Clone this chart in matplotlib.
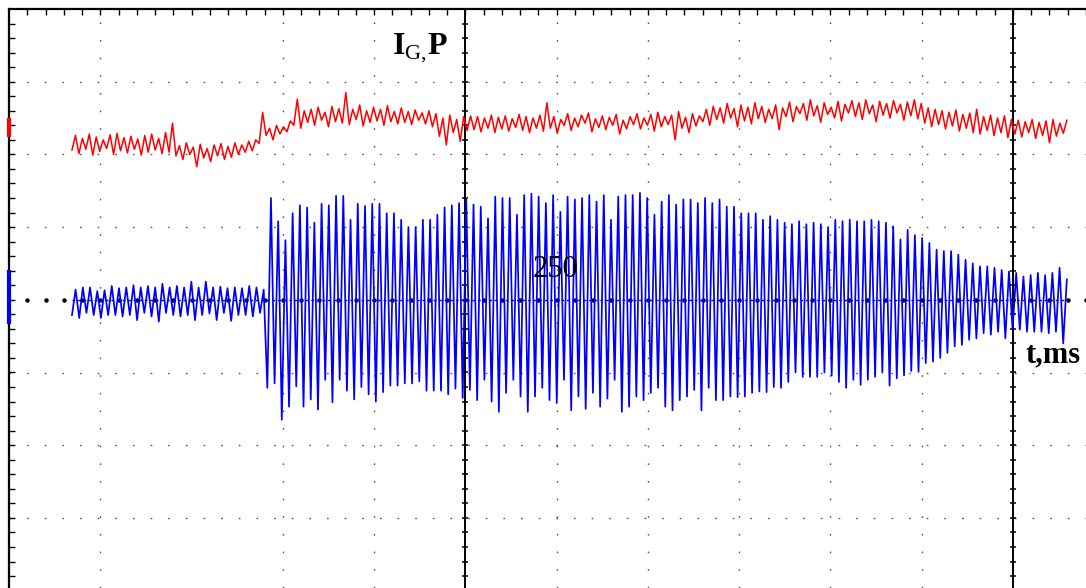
import numpy as np
import matplotlib
matplotlib.use("Agg")
import matplotlib.pyplot as plt

plt.rcParams['font.family'] = ['Liberation Serif', 'DejaVu Serif']
plt.rcParams['mathtext.fontset'] = 'custom'
plt.rcParams['mathtext.rm'] = 'Liberation Serif'
plt.rcParams['mathtext.bf'] = 'Liberation Serif:bold'

# values in hundredths of a screen division, time in divisions
# blue trace: per cycle minimum and maximum (27 quiet cycles, then 111 large ones)
blue_lo = [-21, -25, -18, -21, -25, -21, -21, -23, -21, -28, -18, -23, -30, -18,
           -21, -23, -21, -28, -21, -19, -28, -18, -29, -21, -21, -23, -18,
           -121, -115, -165, -147, -119, -147, -137, -151, -110, -141, -110, -125,
           -137, -120, -130, -140, -127, -118, -118, -115, -115, -112, -125, -125,
           -125, -130, -122, -135,
           -124, -138, -110, -140, -154, -128, -110, -133, -154, -133,
           -121, -138, -142, -110, -152, -133, -150, -128, -147, -136,
           -110, -154, -147, -133, -138, -128, -121, -147, -152, -138,
           -133, -124, -152, -121, -138, -138, -133, -134, -133, -128, -126,
           -127, -120, -121, -113, -100, -106, -106, -106, -100, -104,
           -113, -121, -110, -117, -110, -106, -100, -118, -108, -104,
           -98, -99, -87, -85, -80, -73,
           -64, -62, -55, -53, -46, -48, -44, -53, -41, -41,
           -44, -44, -44, -46, -44, -60]
blue_hi = [14, 17, 17, 12, 13, 19, 16, 17, 20, 17, 19, 17, 22, 17,
           19, 17, 25, 17, 25, 17, 18, 16, 17, 16, 19, 17, 14,
           140, 108, 82, 119, 130, 127, 106, 132, 130, 143, 143, 110, 132,
           129, 132, 132, 119, 119, 110, 100, 100, 110, 110, 117, 127, 130,
           133, 138,
           131, 128, 112, 142, 140, 140, 117, 144, 146, 142,
           133, 144, 121, 142, 138, 140, 144, 135, 144, 110,
           142, 144, 144, 147, 140, 117, 135, 144, 131, 138,
           138, 133, 140, 133, 138, 128, 128, 119, 119, 119, 110,
           115, 110, 106, 104, 108, 104, 106, 104, 100, 110,
           108, 110, 108, 108, 110, 108, 106, 101, 83, 96,
           89, 85, 78, 69, 67, 67, 62, 55, 50, 46,
           46, 44, 41, 39, 37, 32, 34, 37, 34, 37, 44, 28]

# red trace: per cycle minimum and maximum
red_lo = [206, 201, 207, 199, 204, 208, 200, 205, 202, 207, 199, 203, 206, 201,
          203,
          198, 193, 200, 183, 195, 190, 198, 193, 196, 200, 203,
          205, 215, 226, 220, 228, 231, 240, 236,
          244, 240, 247, 238, 245, 243, 241, 248, 239, 244, 246, 240, 245, 242,
          244, 241, 247, 242, 238,
          225, 213, 230, 218, 233,
          234, 231, 236, 230, 235, 232, 237, 233, 230, 236, 232,
          236, 229, 240, 233, 238, 243, 231, 237, 234, 240, 228, 235, 241,
          235, 240, 232, 238, 241, 220, 236, 230, 239,
          245, 240, 248, 243, 250, 238, 246, 242, 249, 244,
          249, 234, 252, 245, 256, 247, 253, 244, 255, 250, 246, 257,
          252, 248, 256, 245, 254, 250, 257, 247, 253, 249,
          243, 238, 241, 235, 239, 232, 236, 230, 228, 233, 226, 230, 223,
          228, 224, 230, 222, 226, 216, 225, 229]
red_hi = [226, 222, 228, 224, 220, 227, 229, 223, 225, 221, 226, 228, 222, 230,
          243,
          212, 216, 210, 214, 208, 213, 215, 211, 216, 213, 218,
          220, 258, 236, 240, 238, 246, 276, 260,
          262, 265, 258, 266, 263, 285, 262, 268, 260, 265, 262, 267, 259, 264,
          259, 261, 257, 260, 256,
          250, 254, 248, 252, 253,
          252, 250, 254, 251, 253, 249, 255, 252, 250, 254, 271,
          252, 248, 256, 250, 254, 257, 249, 253, 251, 255, 247, 252, 256,
          250, 255, 258, 252, 254, 259, 251, 256, 253,
          262, 266, 264, 270, 263, 268, 265, 271, 266, 262,
          268, 264, 272, 266, 270, 275, 267, 271, 265, 273, 269, 274,
          271, 275, 268, 273, 270, 274, 269, 272, 275, 270,
          264, 262, 260, 258, 261, 255, 257, 262, 252, 254, 250, 253, 248,
          247, 245, 248, 244, 246, 248, 243, 247]

t_start, t_end = 0.69, 11.59   # record start / end (div)
red_ref, blue_ref = 237, 0      # channel reference levels

fig = plt.figure(figsize=(10.86, 5.88), dpi=100)
ax = fig.add_axes([9/1086, 0, 1077/1086, 579/588])
ax.set_xlim(0, 1077/91.35)
ax.set_ylim(4 - 579/72.7, 4)

# graticule
for d in [1, 3, 4, 6, 7, 8, 9, 10]:
    ax.axvline(d, color='0.35', lw=1.0, ls=(0, (1.2, 11.5)), zorder=1)
for d in [-3, -2, -1, 1, 2, 3]:
    ax.axhline(d, color='0.35', lw=1.0, ls=(0, (1.2, 11.5)), zorder=1)
for d in [5, 11]:
    ax.axvline(d, color='black', lw=1.4, zorder=1)
    yt = np.arange(-3.8, 4.0, 0.2)
    ax.plot(np.full_like(yt, d), yt, ls='none', marker='_', ms=5, mew=1.1,
            color='black', zorder=1)
xt = np.arange(0.2, 11.8, 0.2)
ax.plot(xt, np.zeros_like(xt), ls='none', marker='o', ms=2.2, color='black', zorder=1)

# traces
blue = np.column_stack([blue_lo, blue_hi]).ravel() / 100
red = np.column_stack([red_lo, red_hi]).ravel() / 100
ax.plot([t_start, t_end], [0, 0], color='#0000ff', lw=1.0, ls=(0, (2, 2)), zorder=2)
ax.plot(np.linspace(t_start, t_end, len(blue)), blue, color='#0000ff', lw=1.25, zorder=2)
ax.plot(np.linspace(t_start, t_end, len(red)), red, color='#ff0000', lw=1.1, zorder=2)

# channel markers on the left edge
ax.plot([0, 0], [red_ref/100 - 0.1, red_ref/100 + 0.1], color='#ff0000', lw=3,
        clip_on=False, zorder=4)
ax.plot([0, 0], [blue_ref/100 - 0.3, blue_ref/100 + 0.38], color='#0000ff', lw=3,
        clip_on=False, zorder=4)

# frame and ticks
for s in ['right', 'bottom']:
    ax.spines[s].set_visible(False)
for s in ['left', 'top']:
    ax.spines[s].set_linewidth(1.6)
ax.xaxis.set_ticks_position('top')
ax.yaxis.set_ticks_position('left')
ax.set_xticks(xt)
ax.set_yticks(np.arange(-3.8, 4.0, 0.2))
ax.tick_params(direction='in', length=4, width=1, labeltop=False, labelleft=False,
               labelbottom=False)

ax.text(4.20, 3.38, r'$\mathbf{I}_{\mathrm{G}{,}}\mathbf{P}$', fontsize=23)
ax.text(5.74, 0.31, '250', fontsize=22)
ax.text(11.14, -0.86, 't,ms', fontsize=22, fontweight='bold')

fig.savefig('out.png', dpi=100)
